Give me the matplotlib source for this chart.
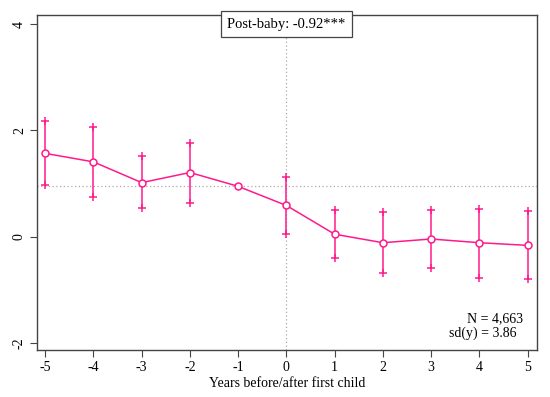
import numpy as np
import matplotlib.pyplot as plt

plt.rcParams['font.family'] = ['Liberation Serif', 'DejaVu Serif']

# event-time coefficients
years = [-5, -4, -3, -2, -1, 0, 1, 2, 3, 4, 5]
coef = [1.57, 1.41, 1.02, 1.21, 0.95, 0.59, 0.05, -0.11, -0.04, -0.11, -0.16]
ci_hi = [2.18, 2.06, 1.52, 1.76, np.nan, 1.13, 0.50, 0.46, 0.50, 0.53, 0.49]
ci_lo = [0.97, 0.75, 0.54, 0.64, np.nan, 0.05, -0.40, -0.68, -0.59, -0.77, -0.80]
ref_level = 0.95

pink = '#ff1a8c'

fig = plt.figure(figsize=(5.5, 3.97), dpi=100)
ax = fig.add_axes([0.0673, 0.118, 0.9087, 0.844])

# reference lines
ax.axhline(ref_level, color='#aaaaaa', lw=0.9, ls=(0, (1, 2)), zorder=1)
ax.axvline(0, color='#aaaaaa', lw=0.9, ls=(0, (1, 2)), zorder=1)

# confidence intervals with "+" ends
ax.vlines(years, ci_lo, ci_hi, color=pink, lw=1.1, zorder=2)
ax.plot(years, ci_hi, '+', color=pink, ms=5.5, mew=1.1, zorder=2)
ax.plot(years, ci_lo, '+', color=pink, ms=5.5, mew=1.1, zorder=2)

# point estimates
ax.plot(years, coef, '-o', color=pink, lw=1.1, ms=5, mfc='white',
        mec=pink, mew=1.1, zorder=3)

ax.set_xlim(-5.17, 5.19)
ax.set_ylim(-2.13, 4.17)
ax.set_xticks(years)
ax.set_xticklabels([str(y) for y in years])
ax.set_yticks([-2, 0, 2, 4])
ax.set_yticklabels(['-2', '0', '2', '4'], rotation=90, va='center')
ax.tick_params(labelsize=10, length=5, width=0.8, color='#444444', pad=3)
ax.set_xlabel('Years before/after first child', fontsize=10, labelpad=2)

for s in ax.spines.values():
    s.set_color('#444444')
    s.set_linewidth(1.0)

ax.text(0, 0.973, 'Post-baby: -0.92***', transform=ax.get_xaxis_transform(),
        ha='center', va='center', fontsize=10.5, zorder=5,
        bbox=dict(boxstyle='square,pad=0.45', fc='white', ec='#444444', lw=0.9))

ax.text(0.972, 0.095, 'N = 4,663', transform=ax.transAxes, ha='right',
        va='center', fontsize=10)
ax.text(0.96, 0.05, 'sd(y) = 3.86', transform=ax.transAxes, ha='right',
        va='center', fontsize=10)

fig.savefig('out.png', dpi=100)
